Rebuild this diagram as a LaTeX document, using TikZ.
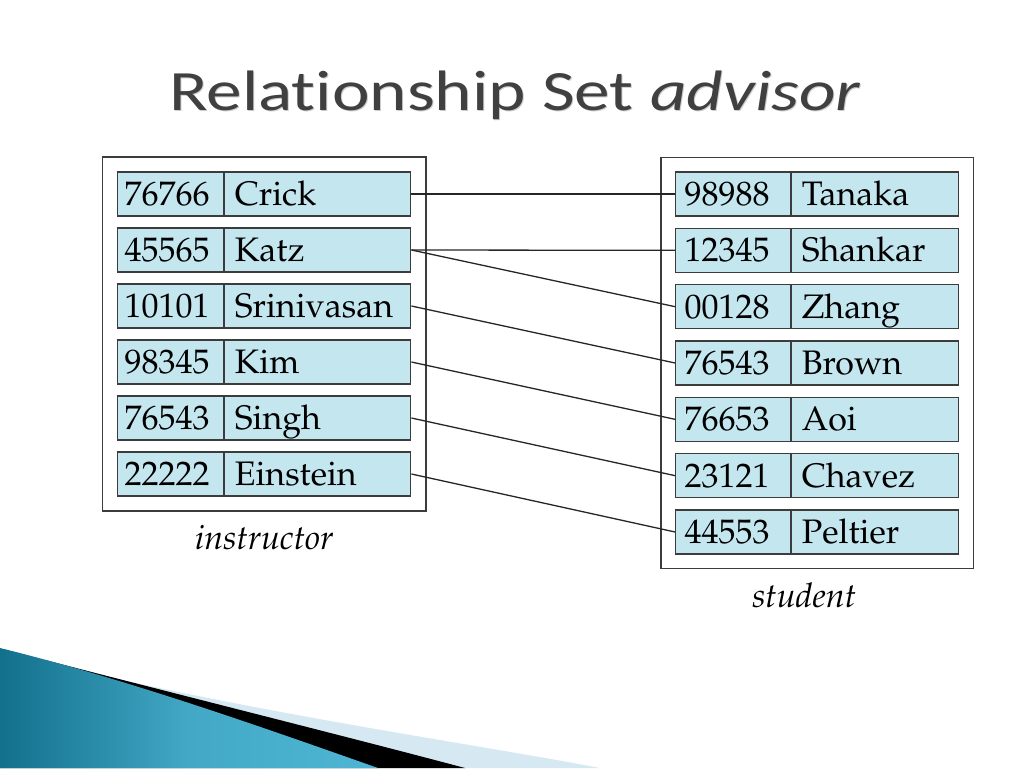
\documentclass[tikz,border=0pt]{standalone}
\usepackage[T1]{fontenc}
\usepackage{fontspec}
\newfontfamily\titlefont[Ligatures=NoCommon]{Carlito}
\newcommand\palfont{\fontencoding{T1}\fontfamily{ppl}\selectfont}
\usepackage{tikz}
\usetikzlibrary{positioning,fit,calc}
\definecolor{cellblue}{RGB}{196,230,239}
\definecolor{cellline}{RGB}{60,60,60}
\definecolor{titlegray}{RGB}{64,64,64}
\definecolor{tealdark}{RGB}{18,112,140}
\definecolor{teallight}{RGB}{78,182,212}
\definecolor{bandblue}{RGB}{214,233,242}
\newcommand\titletext{\scalebox{1.25}[1]{Relationship Set \textit{advisor}}}

\begin{document}
\begin{tikzpicture}[x=1pt,y=-1pt,
  cell/.style={draw=cellline, line width=1.2pt, fill=cellblue, anchor=west,
    align=left, inner ysep=10.5pt, text height=23pt, text depth=0pt,
    font=\palfont\fontsize{34}{39}\selectfont},
  idcell/.style={cell, inner xsep=7pt, text width=92pt},
  namecell/.style={cell, inner xsep=10pt, text width=166pt},
  sidcell/.style={cell, inner xsep=9pt, text width=97pt},
  snamecell/.style={cell, inner xsep=10pt, text width=147pt},
  tablebox/.style={draw=cellline, line width=1.5pt, inner sep=14.5pt},
  setlabel/.style={font=\palfont\itshape\fontsize{34}{39}\selectfont},
  link/.style={draw=black!85, line width=1.3pt}]
\useasboundingbox (0,0) rectangle (1024,768);

% title
\node[anchor=base, text=black!20, font=\titlefont\fontsize{57}{64}\selectfont] at (516,111)
  {\titletext};
\node[anchor=base, text=titlegray, font=\titlefont\fontsize{57}{64}\selectfont] (title) at (515,110)
  {\titletext};

% instructor
\foreach \k/\id/\nm in {1/76766/Crick, 2/45565/Katz, 3/10101/Srinivasan,
    4/98345/Kim, 5/76543/Singh, 6/22222/Einstein} {
  \node[idcell] (iid\k) at (117,{194+56*(\k-1)}) {\id};
  \node[namecell, right=0pt of iid\k] (inm\k) {\nm};
}
\node[tablebox, fit=(iid1) (inm6)] (ibox) {};
\node[setlabel, below=10pt of ibox] (ilabel) {instructor};

% student
\foreach \k/\id/\nm in {1/98988/Tanaka, 2/12345/Shankar, 3/00128/Zhang,
    4/76543/Brown, 5/76653/Aoi, 6/23121/Chavez, 7/44553/Peltier} {
  \node[sidcell] (sid\k) at (675,{194+56.33*(\k-1)}) {\id};
  \node[snamecell, right=0pt of sid\k] (snm\k) {\nm};
}
\node[tablebox, inner sep=14pt, fit=(sid1) (snm7)] (sbox) {};
\node[setlabel, below=10pt of sbox, xshift=-13pt] (slabel) {student};

% advisor pairs
\draw[link] (inm1.east) -- (sid1.west);
\draw[link] (inm2.east) -- (sid2.west);
\draw[link] (inm2.east) -- (sid3.west);
\draw[link] (inm3.east) -- (sid4.west);
\draw[link] (inm4.east) -- (sid5.west);
\draw[link] (inm5.east) -- (sid6.west);
\draw[link] (inm6.east) -- (sid7.west);

% corner swoosh
\fill[bandblue] (95,674) .. controls (300,720) and (480,745) .. (600,768) -- (0,768) -- cycle;
\fill[black] (45,660) .. controls (200,700) and (360,740) .. (465,768) -- (0,768) -- cycle;
\shade[left color=tealdark, right color=teallight, middle color=teallight!80!tealdark]
  (0,648) .. controls (130,680) and (270,730) .. (378,768) -- (0,768) -- cycle;
\end{tikzpicture}
\end{document}
